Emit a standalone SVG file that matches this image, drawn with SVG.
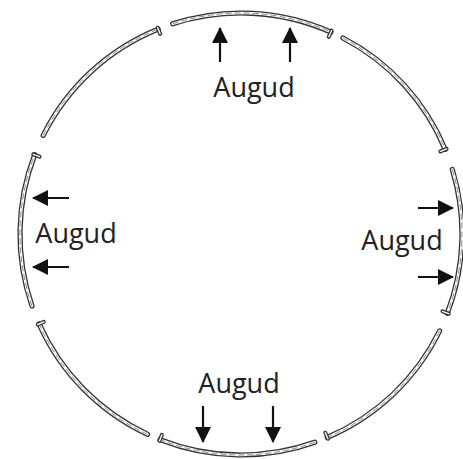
<svg xmlns="http://www.w3.org/2000/svg" width="463" height="459" viewBox="0 0 463 459">
<style>
.w1{fill:none;stroke:#333;stroke-width:5.2;stroke-linecap:round}
.w2{fill:none;stroke:#ffffff;stroke-width:2.6;stroke-linecap:round}
.w3{fill:none;stroke:#888;stroke-width:1;stroke-dasharray:6 3}
.h1{fill:none;stroke:#333;stroke-width:4;stroke-linecap:round}
.h2{fill:none;stroke:#ffffff;stroke-width:1.4;stroke-linecap:round}
.arr{fill:none;stroke:#111;stroke-width:2.2;marker-end:url(#ah)}
.lbl{font-family:"Open Sans","Noto Sans",sans-serif;font-size:27px;fill:#222;text-anchor:middle}
</style>
<defs>
<marker id="ah" viewBox="0 0 16 16" refX="15" refY="8" markerWidth="16" markerHeight="16" markerUnits="userSpaceOnUse" orient="auto">
<path d="M0,0 L16,8 L0,16 z" fill="#111"/>
</marker>
<path id="s1" d="M43.2,135.4 A221,221 0 0 1 158.2,29.1"/>
<path id="s2" d="M172.7,23.8 A221,221 0 0 1 330.9,32.1"/>
<path id="s3" d="M343.0,38.0 A221,221 0 0 1 445.2,149.4"/>
<path id="s4" d="M452.3,169.4 A221,221 0 0 1 447.3,313.2"/>
<path id="s5" d="M439.6,330.9 A221,221 0 0 1 327.3,437.4"/>
<path id="s6" d="M314.8,442.3 A221,221 0 0 1 160.0,439.6"/>
<path id="s7" d="M147.6,434.3 A221,221 0 0 1 39.1,323.9"/>
<path id="s8" d="M32.0,306.0 A221,221 0 0 1 34.7,154.8"/>
<path id="hk" d="M157.7,27.7 L160.2,33.9 M331.5,30.7 L328.8,36.8 M446.6,148.9 L440.4,151.4 M448.7,313.7 L442.5,311.3 M327.9,438.8 L325.3,432.7 M159.5,441.0 L161.9,434.8 M37.7,324.5 L43.8,321.8 M33.3,154.3 L39.5,156.7"/>
</defs>
<g id="wall">
<g id="seg-nw"><use href="#s1" class="w1"/><use href="#s1" class="w2"/><use href="#s1" class="w3"/></g>
<g id="seg-n"><use href="#s2" class="w1"/><use href="#s2" class="w2"/><use href="#s2" class="w3"/></g>
<g id="seg-ne"><use href="#s3" class="w1"/><use href="#s3" class="w2"/><use href="#s3" class="w3"/></g>
<g id="seg-e"><use href="#s4" class="w1"/><use href="#s4" class="w2"/><use href="#s4" class="w3"/></g>
<g id="seg-se"><use href="#s5" class="w1"/><use href="#s5" class="w2"/><use href="#s5" class="w3"/></g>
<g id="seg-s"><use href="#s6" class="w1"/><use href="#s6" class="w2"/><use href="#s6" class="w3"/></g>
<g id="seg-sw"><use href="#s7" class="w1"/><use href="#s7" class="w2"/><use href="#s7" class="w3"/></g>
<g id="seg-w"><use href="#s8" class="w1"/><use href="#s8" class="w2"/><use href="#s8" class="w3"/></g>
<g id="hooks"><use href="#hk" class="h1"/><use href="#hk" class="h2"/></g>
</g>
<g id="label-top"><text class="lbl" x="254" y="97">Augud</text></g>
<g id="label-left"><text class="lbl" x="76" y="243">Augud</text></g>
<g id="label-right"><text class="lbl" x="402" y="250">Augud</text></g>
<g id="label-bottom"><text class="lbl" x="239" y="393">Augud</text></g>
<g id="connectors">
<line class="arr" x1="220" y1="62" x2="220" y2="28"/>
<line class="arr" x1="290" y1="62" x2="290" y2="28"/>
<line class="arr" x1="69" y1="198" x2="33" y2="198"/>
<line class="arr" x1="69" y1="267" x2="33" y2="267"/>
<line class="arr" x1="418" y1="208" x2="453" y2="208"/>
<line class="arr" x1="418" y1="277" x2="453" y2="277"/>
<line class="arr" x1="203" y1="406" x2="203" y2="442"/>
<line class="arr" x1="273" y1="406" x2="273" y2="442"/>
</g>
</svg>
